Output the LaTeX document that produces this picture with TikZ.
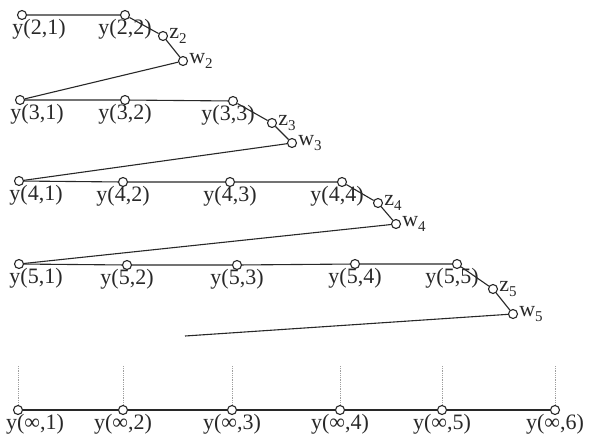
\documentclass[tikz,border=0pt]{standalone}
\usepackage{fontspec}
\setmainfont{Liberation Serif}
\usetikzlibrary{positioning}
\usepackage{xcolor}
\definecolor{inkcolor}{RGB}{40,40,40}
\definecolor{dotcolor}{RGB}{160,160,160}
\newcommand{\lowidx}[1]{\raisebox{-0.55ex}{\fontsize{15}{15}\selectfont #1}}
\tikzset{
  pt/.style     = {circle, draw=inkcolor, fill=white, line width=1.1pt,
                   inner sep=0pt, minimum size=9pt},
  lbl/.style    = {font=\fontsize{22}{22}\selectfont, text=inkcolor, inner sep=0pt},
  link/.style   = {draw=inkcolor, line width=1.1pt},
  guide/.style  = {draw=dotcolor, densely dotted, line width=0.8pt},
}

\begin{document}
\begin{tikzpicture}[x=1pt, y=-1pt]
  \useasboundingbox (0,0) rectangle (591,442);

  % row 2
  \node[pt] (y21) at (22,15) {};
  \node[pt] (y22) at (125,15) {};
  \node[pt] (z2)  at (163,36) {};
  \node[pt] (w2)  at (183,61) {};
  % row 3
  \node[pt] (y31) at (20,100) {};
  \node[pt] (y32) at (125,100) {};
  \node[pt] (y33) at (233,101) {};
  \node[pt] (z3)  at (272,123) {};
  \node[pt] (w3)  at (292,143) {};
  % row 4
  \node[pt] (y41) at (19,181) {};
  \node[pt] (y42) at (123,182) {};
  \node[pt] (y43) at (230,182) {};
  \node[pt] (y44) at (342,182) {};
  \node[pt] (z4)  at (378,203) {};
  \node[pt] (w4)  at (396,224) {};
  % row 5
  \node[pt] (y51) at (19,264) {};
  \node[pt] (y52) at (127,265) {};
  \node[pt] (y53) at (237,265) {};
  \node[pt] (y54) at (355,264) {};
  \node[pt] (y55) at (457,264) {};
  \node[pt] (z5)  at (493,289) {};
  \node[pt] (w5)  at (513,314) {};
  \coordinate (tail) at (185,336);

  \draw[link] (y21) -- (y22) -- (z2) -- (w2) -- (y31);
  \draw[link] (y31) -- (y32) -- (y33) -- (z3) -- (w3) -- (y41);
  \draw[link] (y41) -- (y42) -- (y43) -- (y44) -- (z4) -- (w4) -- (y51);
  \draw[link] (y51) -- (y52) -- (y53) -- (y54) -- (y55) -- (z5) -- (w5) -- (tail);

  \node[lbl, below=-1pt of y21, xshift=17pt] (t21) {y(2,1)};
  \node[lbl, below=-1pt of y22] (t22) {y(2,2)};
  \node[lbl, right=1pt of z2] (tz2) {z\lowidx{2}};
  \node[lbl, right=1pt of w2] (tw2) {w\lowidx{2}};

  \node[lbl, below=-1pt of y31, xshift=17pt] (t31) {y(3,1)};
  \node[lbl, below=-1pt of y32] (t32) {y(3,2)};
  \node[lbl, below=-1pt of y33, xshift=-5pt] (t33) {y(3,3)};
  \node[lbl, right=1pt of z3] (tz3) {z\lowidx{3}};
  \node[lbl, right=1pt of w3] (tw3) {w\lowidx{3}};

  \node[lbl, below=-1pt of y41, xshift=17pt] (t41) {y(4,1)};
  \node[lbl, below=-1pt of y42] (t42) {y(4,2)};
  \node[lbl, below=-1pt of y43] (t43) {y(4,3)};
  \node[lbl, below=-1pt of y44, xshift=-5pt] (t44) {y(4,4)};
  \node[lbl, right=1pt of z4] (tz4) {z\lowidx{4}};
  \node[lbl, right=1pt of w4] (tw4) {w\lowidx{4}};

  \node[lbl, below=-1pt of y51, xshift=17pt] (t51) {y(5,1)};
  \node[lbl, below=-1pt of y52] (t52) {y(5,2)};
  \node[lbl, below=-1pt of y53] (t53) {y(5,3)};
  \node[lbl, below=-1pt of y54] (t54) {y(5,4)};
  \node[lbl, below=-1pt of y55, xshift=-5pt] (t55) {y(5,5)};
  \node[lbl, right=1pt of z5] (tz5) {z\lowidx{5}};
  \node[lbl, right=1pt of w5] (tw5) {w\lowidx{5}};

  % limit row
  \foreach \k/\x in {1/18, 2/123, 3/232, 4/340, 5/442, 6/555} {
    \node[pt] (yi\k) at (\x,410) {};
    \coordinate (g\k) at (\x,366);
    \draw[guide] (g\k) -- (yi\k);
  }
  \draw[link] (yi1) -- (yi2) -- (yi3) -- (yi4) -- (yi5) -- (yi6);
  \node[lbl, below=-1pt of yi1, xshift=17pt] (ti1) {y(∞,1)};
  \foreach \k in {2,...,6}
    \node[lbl, below=-1pt of yi\k] (ti\k) {y(∞,\k)};
\end{tikzpicture}
\end{document}
